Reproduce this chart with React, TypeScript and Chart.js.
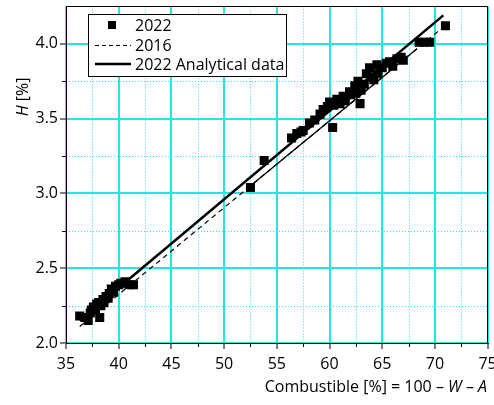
import React, { useEffect, useRef } from "react";
import { Chart, registerables } from "chart.js";

Chart.register(...registerables);

// ---- data ----
const xMajorTicks = [35, 40, 45, 50, 55, 60, 65, 70, 75];
const xMinorTicks = [37.5, 42.5, 47.5, 52.5, 57.5, 62.5, 67.5, 72.5];
const yMajorTicks = [2.0, 2.5, 3.0, 3.5, 4.0];
const yMinorTicks = [2.25, 2.75, 3.25, 3.75];

const points2022X = [
  36.3, 36.8, 37.1, 37.3, 37.4, 37.6, 37.8, 37.9, 38.1, 38.2, 38.3, 38.5, 38.6, 38.8, 39.0, 39.1, 39.3, 39.5, 39.7, 40.0, 40.2, 40.6, 41.0, 41.4,
  52.5, 53.8,
  56.4, 56.9, 57.3, 57.5, 58.1, 58.6, 59.1, 59.4, 59.8, 60.0, 60.3, 60.4, 60.7, 61.0, 61.3, 61.5, 61.9, 62.0, 62.4, 62.5, 62.7, 62.9, 63.0, 63.3,
  63.5, 63.8, 64.0, 64.2, 64.5, 64.6, 65.0, 65.4, 65.7, 66.0, 66.4, 66.8, 67.0, 68.5, 69.0, 69.5, 71.0,
];
const points2022Y = [
  2.18, 2.17, 2.15, 2.2, 2.22, 2.24, 2.23, 2.26, 2.27, 2.17, 2.25, 2.29, 2.27, 2.31, 2.3, 2.33, 2.36, 2.34, 2.38, 2.39, 2.4, 2.41, 2.39, 2.39,
  3.04, 3.22,
  3.37, 3.4, 3.41, 3.42, 3.47, 3.49, 3.53, 3.56, 3.58, 3.61, 3.44, 3.59, 3.63, 3.6, 3.65, 3.62, 3.68, 3.66, 3.72, 3.67, 3.75, 3.6, 3.69, 3.73,
  3.8, 3.84, 3.78, 3.76, 3.86, 3.8, 3.84, 3.87, 3.88, 3.85, 3.9, 3.91, 3.89, 4.01, 4.01, 4.01, 4.12,
];

const analyticalX = [36.3, 70.8];
const analyticalY = [2.15, 4.19];

const line2016X = [36.3, 70.6];
const line2016Y = [2.11, 4.1];

const fit2022X = [52.4, 68.3];
const fit2022Y = [3.045, 3.967];

const seriesLabels = ["2022", "2016", "2022 Analytical data"];

const FONT = "'Open Sans', 'DejaVu Sans', sans-serif";
const CYAN = "#22e6e6";

const toXY = (xs: number[], ys: number[]) => xs.map((x, i) => ({ x, y: ys[i] }));

const drawSegments = (
  ctx: CanvasRenderingContext2D,
  segs: { t: string; it: boolean }[],
  size: number
) => {
  let w = 0;
  const widths = segs.map((s) => {
    ctx.font = `${s.it ? "italic " : ""}${size}px ${FONT}`;
    const m = ctx.measureText(s.t).width;
    w += m;
    return m;
  });
  return { total: w, widths };
};

const decorPlugin = {
  id: "decor",
  beforeDatasetsDraw(chart: any) {
    const { ctx, chartArea: a, scales } = chart;
    const xs = scales.x;
    const ys = scales.y;
    ctx.save();
    ctx.strokeStyle = CYAN;
    ctx.lineWidth = 1;
    ctx.setLineDash([1, 2]);
    for (const v of xMinorTicks) {
      const px = Math.round(xs.getPixelForValue(v)) + 0.5;
      ctx.beginPath();
      ctx.moveTo(px, a.top);
      ctx.lineTo(px, a.bottom);
      ctx.stroke();
    }
    for (const v of yMinorTicks) {
      const py = Math.round(ys.getPixelForValue(v)) + 0.5;
      ctx.beginPath();
      ctx.moveTo(a.left, py);
      ctx.lineTo(a.right, py);
      ctx.stroke();
    }
    ctx.restore();
  },
  afterDraw(chart: any) {
    const { ctx, chartArea: a, scales } = chart;
    const xs = scales.x;
    const ys = scales.y;
    ctx.save();
    // frame
    ctx.strokeStyle = "#000";
    ctx.lineWidth = 1;
    ctx.setLineDash([]);
    ctx.strokeRect(Math.round(a.left) + 0.5, Math.round(a.top) + 0.5, Math.round(a.right - a.left) - 1, Math.round(a.bottom - a.top));
    // minor tick marks
    ctx.beginPath();
    for (const v of xMinorTicks) {
      const px = Math.round(xs.getPixelForValue(v)) + 0.5;
      ctx.moveTo(px, a.bottom);
      ctx.lineTo(px, a.bottom + 4);
    }
    for (const v of yMinorTicks) {
      const py = Math.round(ys.getPixelForValue(v)) + 0.5;
      ctx.moveTo(a.left, py);
      ctx.lineTo(a.left - 4, py);
    }
    ctx.stroke();

    ctx.fillStyle = "#000";
    ctx.textBaseline = "alphabetic";
    // x title
    const xSegs = [
      { t: "Combustible [%] = 100 – ", it: false },
      { t: "W", it: true },
      { t: " – ", it: false },
      { t: "A", it: true },
    ];
    const xm = drawSegments(ctx, xSegs, 16);
    let cx = 487 - xm.total;
    xSegs.forEach((s, i) => {
      ctx.font = `${s.it ? "italic " : ""}16px ${FONT}`;
      ctx.textAlign = "left";
      ctx.fillText(s.t, cx, 392);
      cx += xm.widths[i];
    });
    // y title
    const ySegs = [
      { t: "H", it: true },
      { t: " [%]", it: false },
    ];
    const ym = drawSegments(ctx, ySegs, 16);
    ctx.save();
    ctx.translate(28, 97);
    ctx.rotate(-Math.PI / 2);
    let cy = -ym.total / 2;
    ySegs.forEach((s, i) => {
      ctx.font = `${s.it ? "italic " : ""}16px ${FONT}`;
      ctx.textAlign = "left";
      ctx.fillText(s.t, cy, 0);
      cy += ym.widths[i];
    });
    ctx.restore();

    // legend
    const lx = 88, ly = 14, lw = 198, lh = 62;
    ctx.fillStyle = "#fff";
    ctx.fillRect(lx, ly, lw, lh);
    ctx.strokeStyle = "#000";
    ctx.lineWidth = 1;
    ctx.strokeRect(lx + 0.5, ly + 0.5, lw, lh);
    const rows = [25, 45, 64];
    ctx.fillStyle = "#000";
    ctx.fillRect(108, rows[0] - 4, 8, 8);
    ctx.beginPath();
    ctx.lineWidth = 1.2;
    ctx.setLineDash([4, 3]);
    ctx.moveTo(95, rows[1] + 0.5);
    ctx.lineTo(131, rows[1] + 0.5);
    ctx.stroke();
    ctx.beginPath();
    ctx.lineWidth = 2.6;
    ctx.setLineDash([]);
    ctx.moveTo(95, rows[2]);
    ctx.lineTo(131, rows[2]);
    ctx.stroke();
    ctx.font = `16px ${FONT}`;
    ctx.textAlign = "left";
    ctx.textBaseline = "middle";
    ctx.fillStyle = "#000";
    seriesLabels.forEach((t, i) => ctx.fillText(t, 135, rows[i] + 1));
    ctx.restore();
  },
};

export default function App() {
  const ref = useRef<HTMLCanvasElement>(null);
  useEffect(() => {
    if (!ref.current) return;
    const chart = new Chart(ref.current, {
      type: "scatter",
      data: {
        datasets: [
          {
            label: seriesLabels[2],
            data: toXY(analyticalX, analyticalY),
            showLine: true,
            borderColor: "#000",
            borderWidth: 2.6,
            pointRadius: 0,
          },
          {
            label: seriesLabels[1],
            data: toXY(line2016X, line2016Y),
            showLine: true,
            borderColor: "#000",
            borderWidth: 1.2,
            borderDash: [5, 4],
            pointRadius: 0,
          },
          {
            label: "fit",
            data: toXY(fit2022X, fit2022Y),
            showLine: true,
            borderColor: "#000",
            borderWidth: 1.3,
            pointRadius: 0,
          },
          {
            label: seriesLabels[0],
            data: toXY(points2022X, points2022Y),
            showLine: false,
            pointStyle: "rect",
            pointRadius: 6.4,
            backgroundColor: "#000",
            borderWidth: 0,
          },
        ],
      },
      options: {
        responsive: false,
        animation: false,
        devicePixelRatio: 1,
        layout: { padding: { top: 5, right: 6, left: 0, bottom: 0 } },
        plugins: { legend: { display: false }, tooltip: { enabled: false } },
        scales: {
          x: {
            type: "linear",
            min: 35,
            max: 75,
            afterFit: (s: any) => {
              s.height = 62;
              s.paddingLeft = 0;
              s.paddingRight = 0;
            },
            afterBuildTicks: (s: any) => {
              s.ticks = xMajorTicks.map((value) => ({ value }));
            },
            ticks: {
              includeBounds: false,
              autoSkip: false,
              maxRotation: 0,
              padding: 6,
              color: "#000",
              font: { family: FONT, size: 16 },
              callback: (v: any) => String(v),
            },
            grid: { color: CYAN, lineWidth: 2, tickColor: "#000", tickWidth: 1, tickLength: 6 },
            border: { color: "#000", width: 1 },
          },
          y: {
            type: "linear",
            min: 2,
            max: 4.25,
            afterFit: (s: any) => {
              s.width = 66;
              s.paddingTop = 0;
              s.paddingBottom = 0;
            },
            afterBuildTicks: (s: any) => {
              s.ticks = yMajorTicks.map((value) => ({ value }));
            },
            ticks: {
              includeBounds: false,
              autoSkip: false,
              padding: 2,
              color: "#000",
              font: { family: FONT, size: 16 },
              callback: (v: any) => Number(v).toFixed(1),
            },
            grid: { color: CYAN, lineWidth: 2, tickColor: "#000", tickWidth: 1, tickLength: 6 },
            border: { color: "#000", width: 1 },
          },
        },
      },
      plugins: [decorPlugin],
    } as any);
    return () => chart.destroy();
  }, []);
  return (
    <div style={{ position: "absolute", left: 0, top: 0, width: 494, height: 405, background: "#fff" }}>
      <canvas ref={ref} width={494} height={405} style={{ display: "block" }} />
    </div>
  );
}
